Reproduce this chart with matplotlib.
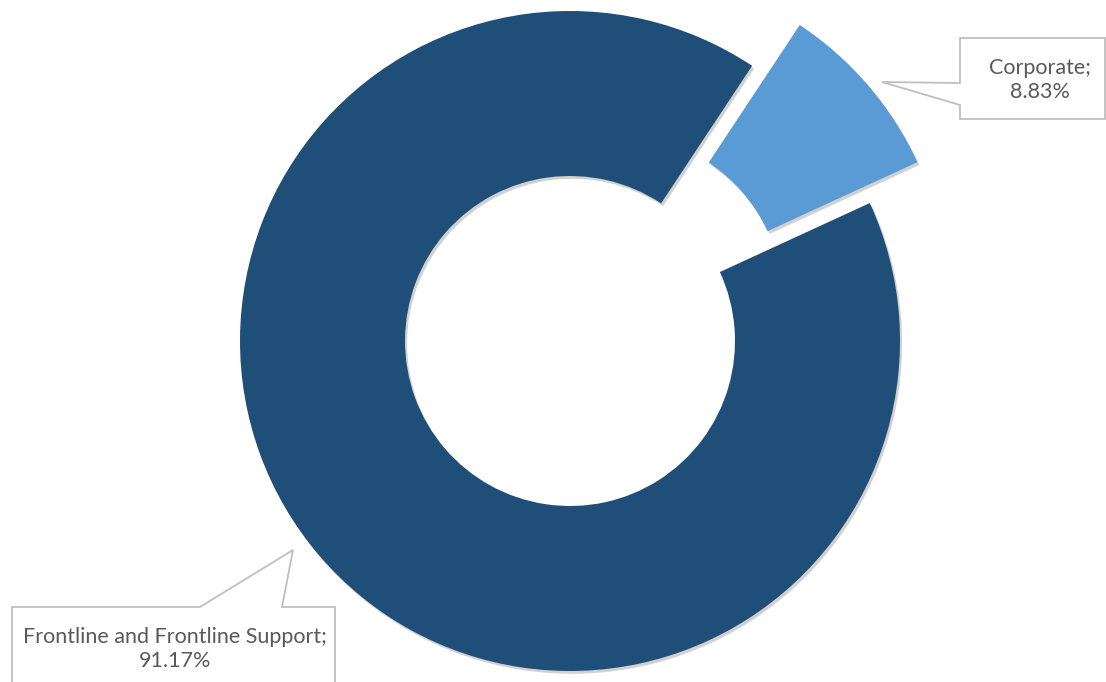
import matplotlib.pyplot as plt
from matplotlib.patches import Polygon
import matplotlib.patheffects as pe

# Staff split by function (percent of total)
categories = ["Corporate", "Frontline and Frontline Support"]
shares = [8.83, 91.17]
colors = ["#5B9BD5", "#1F4E79"]

W, H = 1106, 682
fig = plt.figure(figsize=(W / 100, H / 100), dpi=100)
ax = fig.add_axes([0, 0, 1, 1])

radius = 330
center = (570, H - 341)
shadow = [pe.SimplePatchShadow(offset=(1.5, -2), shadow_rgbFace="black", alpha=0.18), pe.Normal()]

wedges, _ = ax.pie(
    shares,
    colors=colors,
    startangle=56.5,
    counterclock=False,
    radius=radius,
    center=center,
    explode=[0.19 * radius, 0],
    wedgeprops=dict(width=radius * 0.5, linewidth=0),
    frame=True,
)
for w in wedges:
    w.set_path_effects(shadow)
ax.set_xlim(0, W)
ax.set_ylim(0, H)
ax.set_aspect("equal")
ax.axis("off")


def callout(points, text_xy, text):
    # box with pointer, given in pixel coords (y measured from the top)
    pts = [(x, H - y) for x, y in points]
    ax.add_patch(Polygon(pts, closed=True, facecolor="white", edgecolor="#BFBFBF", linewidth=1.3, zorder=5))
    ax.text(text_xy[0], H - text_xy[1], text, ha="center", va="center", fontsize=15.5,
            family="Lato", color="#595959", linespacing=1.3, zorder=6)


label_text = [f"{c};\n{v:.2f}%" for c, v in zip(categories, shares)]

callout([(960, 38), (1105, 38), (1105, 119), (960, 119), (960, 105), (882, 82), (960, 83)],
        (1040, 80), label_text[0])
callout([(12, 607), (200, 607), (293, 550), (282, 607), (335, 607), (335, 700), (12, 700)],
        (175, 649), label_text[1])

fig.savefig("out.png", dpi=100)
